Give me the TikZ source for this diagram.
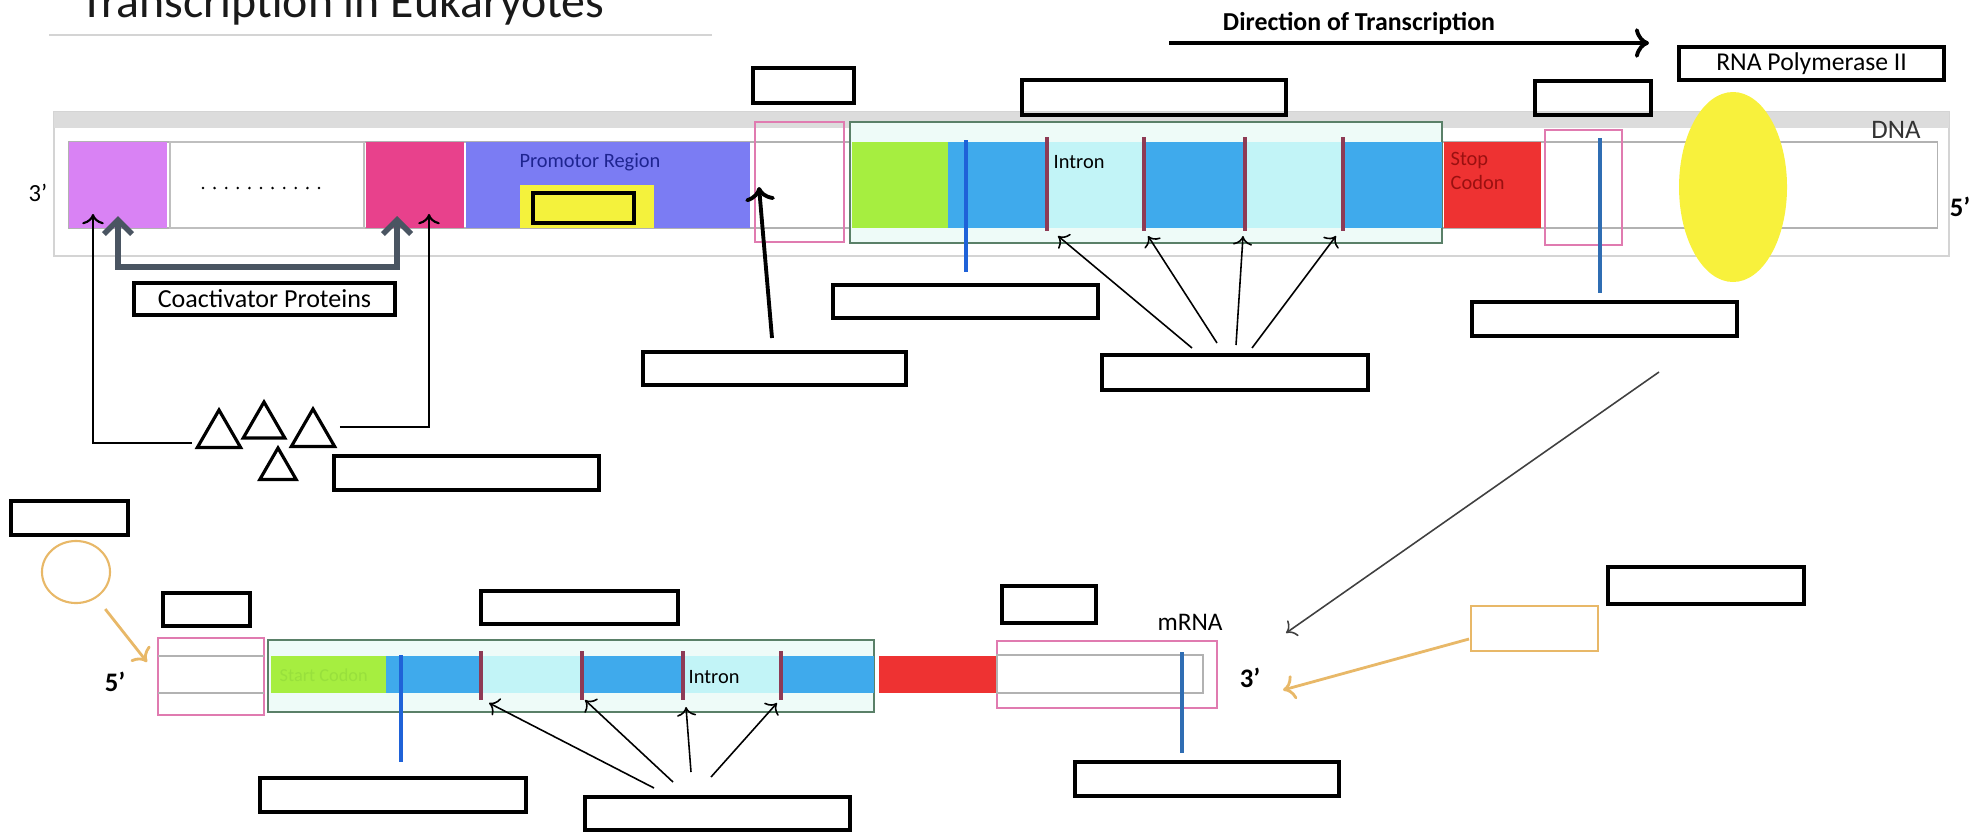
\documentclass[tikz,border=0pt]{standalone}
\usepackage{fontspec}
\setmainfont{Carlito}
\usetikzlibrary{fit,shapes.geometric,arrows.meta}
\definecolor{vio}{HTML}{D982F4}
\definecolor{mag}{HTML}{E8418C}
\definecolor{prom}{HTML}{7B7CF3}
\definecolor{yel}{HTML}{F4F23C}
\definecolor{limeseg}{HTML}{A6EE40}
\definecolor{faint}{HTML}{98E03C}
\definecolor{exon}{HTML}{3FAAEC}
\definecolor{intr}{HTML}{C2F4F7}
\definecolor{stopred}{HTML}{EE3232}
\definecolor{pinkline}{HTML}{E07BB0}
\definecolor{greenline}{HTML}{5A8068}
\definecolor{mint}{HTML}{EEFBF8}
\definecolor{slate}{HTML}{4A5562}
\definecolor{tanline}{HTML}{E8B868}
\definecolor{bluebar}{HTML}{1F62D8}
\definecolor{steel}{HTML}{2F6DB3}
\definecolor{cutline}{HTML}{8E3A55}
\definecolor{navy}{HTML}{1E2490}
\definecolor{darkred}{HTML}{9A1010}
\definecolor{framegray}{HTML}{D4D4D4}
\definecolor{bandgray}{HTML}{DCDCDC}
\definecolor{pol}{HTML}{F8F13C}

\begin{document}
\begin{tikzpicture}[x=0.01cm,y=-0.01cm,
    blank/.style={draw=black,line width=1pt,inner sep=0pt},
    splice/.style={cutline,line width=0.9pt},
    bar/.style={line width=1.4pt},
    thinarrow/.style={->,line width=0.45pt},
    tri/.style={draw,regular polygon,regular polygon sides=3,inner sep=0pt,line width=0.9pt},
    lbl/.style={inner sep=0pt,font=\fontsize{7.3}{8}\selectfont},
    small/.style={inner sep=0pt,font=\fontsize{5.8}{6.6}\selectfont},
    endlbl/.style={inner sep=0pt,font=\bfseries\fontsize{7.6}{8}\selectfont}]
\useasboundingbox (0,0) rectangle (1986,836);

\node[anchor=base west,inner sep=0pt,font=\fontsize{13.6}{15}\selectfont,text=black!90] (title) at (80,17) {Transcription in Eukaryotes};
\draw[framegray,line width=0.4pt] (49,35) -- (712,35);

\draw[framegray,fill=white,line width=0.6pt] (54,112) rectangle (1949,256);
\fill[bandgray] (54,112) rectangle (1949,128);
\draw[gray!60,line width=0.3pt] (69,142) rectangle (1937,228);
\draw[greenline,fill=mint,line width=0.8pt] (850,122) rectangle (1442,243);
\foreach \a/\b/\c in {69/167/vio,366/464/mag,466/750/prom,852/948/limeseg,948/1046/exon,1046/1144/intr,1144/1245/exon,1245/1343/intr,1343/1442/exon,1444/1541/stopred}
  \fill[\c] (\a,142) rectangle (\b,228);
\draw[gray!50,fill=white,line width=0.3pt] (170,142) rectangle (364,228);
\foreach \i in {0,...,10}
  \fill (203+\i*11.6,188) circle (1.4);
\fill[yel] (520,185) rectangle (654,228);
\node[blank,fill=yel,line width=1.1pt,fit={(533,193) (634,223)}] (tata) {};
\draw[pinkline,line width=0.8pt] (755,122) rectangle (844,242);
\draw[pinkline,line width=0.8pt] (1545,130) rectangle (1622,245);
\foreach \x in {1047,1144,1245,1343}
  \draw[splice] (\x,137) -- (\x,231);
\draw[bar,bluebar] (966,140) -- (966,272);
\draw[bar,steel] (1600,138) -- (1600,293);
\fill[pol] (1733,187) ellipse [x radius=54,y radius=95];

\node[small,text=navy] (promtext) at (590,162) {Promotor Region};
\node[small,anchor=west] (intron) at (1053,162) {Intron};
\node[small,anchor=north west,align=left,text=darkred] (stop) at (1450,152) {Stop\\Codon};
\node[lbl,font=\fontsize{7.6}{8}\selectfont,text=black!80] (dna) at (1896,130) {DNA};
\node[lbl,font=\fontsize{7}{8}\selectfont] (top3) at (38,193) {3'};
\node[endlbl] (top5) at (1960,207) {5'};

\node[endlbl,font=\bfseries\fontsize{7.35}{8}\selectfont] (dir) at (1359,23) {Direction of Transcription};
\coordinate (d1) at (1169,43);
\coordinate (d2) at (1649,43);
\draw[->,line width=1.1pt] (d1) -- (d2);

\node[blank,fit={(753,68) (854,103)}] (b1) {};
\node[blank,fit={(1022,80) (1286,115)}] (b2) {};
\node[blank,fit={(1535,81) (1651,115)}] (b3) {};
\node[blank,fit={(1679,47) (1944,80)}] (pol) {};
\node[lbl] (poltext) at (pol.center) {RNA Polymerase II};

\node[blank,fit={(833,285) (1098,318)}] (b4) {};
\node[blank,fit={(643,352) (906,385)}] (b5) {};
\node[blank,fit={(1102,355) (1368,390)}] (b6) {};
\node[blank,fit={(1472,302) (1737,336)}] (b7) {};
\node[blank,fit={(134,283) (395,315)}] (coact) {};
\node[lbl,font=\fontsize{7.4}{8}\selectfont] (coacttext) at (coact.center) {Coactivator Proteins};
\node[blank,fit={(334,456) (599,490)}] (b8) {};
\node[blank,fit={(11,501) (128,535)}] (b9) {};

\coordinate (q1) at (118,216);
\coordinate (q2) at (397,216);
\draw[slate,line width=1.6pt,{Straight Barb[length=4pt,width=8pt]}-{Straight Barb[length=4pt,width=8pt]}] (q1) -- ++(0,51) -| (q2);

\foreach \n/\x/\y/\s in {t1/219/435/0.5cm,t2/264/426/0.48cm,t3/313/434/0.5cm,t4/278/469/0.42cm}
  \node[tri,minimum size=\s] (\n) at (\x,\y) {};
\coordinate (p1) at (93,214);
\coordinate (p2) at (429,214);
\draw[->,line width=0.6pt,shorten <=3pt] ([yshift=-0.08cm]t1.west) -| (p1);
\draw[->,line width=0.6pt,shorten <=3pt] ([yshift=0.07cm]t3.east) -| (p2);

\coordinate (u1) at (772,338);
\coordinate (u2) at (759,187);
\draw[->,line width=1.1pt] (u1) -- (u2);

\foreach \i/\sx/\sy/\tx in {1/1192/348/1058,2/1217/343/1148,3/1236/345/1243,4/1252/348/1336} {
  \coordinate (is\i) at (\sx,\sy);
  \coordinate (it\i) at (\tx,236);
  \draw[thinarrow] (is\i) -- (it\i);
}

\coordinate (g1) at (1659,372);
\coordinate (g2) at (1286,633);
\draw[thinarrow,black!75] (g1) -- (g2);

\node[draw=tanline,ellipse,minimum width=0.68cm,minimum height=0.62cm,line width=0.6pt] (cap) at (76,572) {};
\coordinate (c2) at (147,662);
\draw[->,tanline,line width=0.8pt,shorten <=4pt] (cap) -- (c2);
\node[blank,fit={(163,593) (250,626)}] (b10) {};
\node[blank,fit={(481,591) (678,624)}] (b11) {};
\node[blank,fit={(1002,586) (1096,623)}] (b12) {};
\node[blank,fit={(1608,567) (1804,604)}] (b13) {};
\node[draw=tanline,line width=0.7pt,inner sep=0pt,fit={(1471,606) (1598,651)}] (tail) {};
\coordinate (h1) at (1469,639);
\coordinate (h2) at (1283,690);
\draw[->,tanline,line width=0.8pt] (h1) -- (h2);
\node[blank,fit={(260,778) (526,812)}] (b14) {};
\node[blank,fit={(585,797) (850,830)}] (b15) {};
\node[blank,fit={(1075,762) (1339,796)}] (b16) {};

\draw[greenline,fill=mint,line width=0.8pt] (268,640) rectangle (874,712);
\foreach \a/\b/\c in {271/386/limeseg,386/481/exon,481/582/intr,582/683/exon,683/781/intr,781/874/exon,879/997/stopred}
  \fill[\c] (\a,656) rectangle (\b,693);
\draw[pinkline,line width=0.8pt] (158,638) rectangle (264,715);
\draw[gray!60,line width=0.3pt] (158,656) -- (264,656) (158,693) -- (264,693);
\draw[pinkline,line width=0.8pt] (997,641) rectangle (1217,708);
\draw[gray!60,line width=0.3pt] (997,655) rectangle (1203,693);
\foreach \x in {481,582,683,781}
  \draw[splice] (\x,651) -- (\x,700);
\draw[bar,bluebar] (401,655) -- (401,762);
\draw[bar,steel] (1182,652) -- (1182,753);

\node[small,anchor=west,text=faint,font=\fontsize{5.2}{6}\selectfont] (start) at (279,675) {Start Codon};
\node[small,anchor=west] (intron2) at (688,677) {Intron};
\node[lbl,font=\fontsize{7.2}{8}\selectfont] (mrna) at (1190,622) {mRNA};
\node[endlbl] (bot5) at (115,682) {5'};
\node[endlbl] (bot3) at (1250,678) {3'};

\foreach \i/\sx/\sy/\tx/\ty in {1/654/788/489/703,2/673/782/585/700,3/691/772/686/707,4/711/777/777/703} {
  \coordinate (js\i) at (\sx,\sy);
  \coordinate (jt\i) at (\tx,\ty);
  \draw[thinarrow] (js\i) -- (jt\i);
}
\end{tikzpicture}
\end{document}
